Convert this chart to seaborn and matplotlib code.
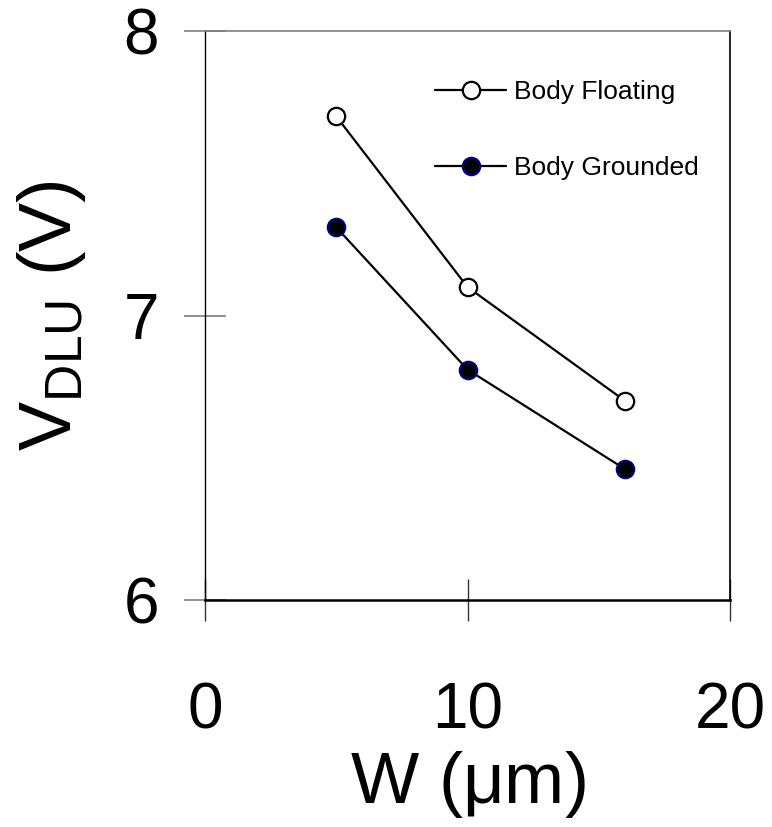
import pandas as pd
import seaborn as sns
import matplotlib
matplotlib.use("Agg")
import matplotlib.pyplot as plt

# data
w_um = [5, 10, 16]
v_floating = [7.70, 7.10, 6.70]
v_grounded = [7.31, 6.81, 6.46]
x_ticks = [0, 10, 20]
y_ticks = [6, 7, 8]

df = pd.DataFrame({
    "W": w_um * 2,
    "V": v_floating + v_grounded,
    "body": ["Body Floating"] * 3 + ["Body Grounded"] * 3,
})

sns.set_theme(style="white")
plt.rcParams["font.family"] = ["Liberation Sans", "DejaVu Sans"]
plt.rcParams["mathtext.fontset"] = "custom"
plt.rcParams["mathtext.rm"] = "Liberation Sans"
plt.rcParams["text.color"] = "black"
plt.rcParams["axes.labelcolor"] = "black"

fig = plt.figure(figsize=(7.72, 8.27), dpi=100)
ax = fig.add_axes([205 / 772, 1 - 600 / 827, 525 / 772, 569 / 827])

# open markers for floating body, filled for grounded
sns.lineplot(data=df[df["body"] == "Body Floating"], x="W", y="V", ax=ax,
             color="black", lw=1.6, marker="o", markersize=12.5,
             markerfacecolor="white", markeredgecolor="black",
             markeredgewidth=1.6, label="Body Floating")
sns.lineplot(data=df[df["body"] == "Body Grounded"], x="W", y="V", ax=ax,
             color="black", lw=1.6, marker="o", markersize=12.5,
             markerfacecolor="black", markeredgecolor="#000080",
             markeredgewidth=1.6, label="Body Grounded")

ax.set_xlim(0, 20)
ax.set_ylim(6, 8)
ax.set_xticks(x_ticks)
ax.set_yticks(y_ticks)

ax.tick_params(axis="x", bottom=True, direction="inout", length=30, width=1.0,
               color="#333333", labelsize=46, pad=44, labelcolor="black")
ax.tick_params(axis="y", left=True, direction="inout", length=30, width=1.2,
               color="#808080", labelsize=46, pad=18, labelcolor="black")

for side, lw, col in [("left", 1.0, "black"), ("bottom", 1.8, "black"),
                      ("right", 1.2, "black"), ("top", 1.2, "#808080")]:
    ax.spines[side].set_visible(True)
    ax.spines[side].set_linewidth(lw)
    ax.spines[side].set_color(col)

ax.set_xlabel(r"W ($\mathregular{\mu}$m)", fontsize=52, color="black")
ax.set_ylabel(r"$\mathregular{V_{DLU}}$ (V)", fontsize=53, color="black")
ax.xaxis.set_label_coords(0.5, -0.262)
ax.yaxis.set_label_coords(-0.223, 0.5)

leg = ax.legend(loc="upper left", bbox_to_anchor=(0.438, 0.914),
                frameon=False, fontsize=19, handlelength=2.7,
                handletextpad=0.3, labelspacing=1.98, borderpad=0,
                borderaxespad=0)
for t in leg.get_texts():
    t.set_color("black")

fig.savefig("out.png", dpi=100)
